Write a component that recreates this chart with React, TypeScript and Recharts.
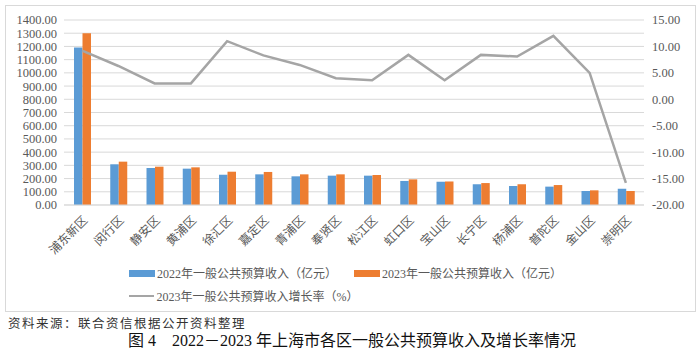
import { Bar, CartesianGrid, ComposedChart, Legend, Line, XAxis, YAxis } from "recharts";

const districts = [
  "浦东新区", "闵行区", "静安区", "黄浦区", "徐汇区", "嘉定区", "青浦区", "奉贤区",
  "松江区", "虹口区", "宝山区", "长宁区", "杨浦区", "普陀区", "金山区", "崇明区",
];
const revenue2022 = [1191, 308, 280, 275, 229, 232, 217, 222, 222, 182, 176, 157, 144, 139, 106, 123];
const revenue2023 = [1300, 328, 290, 285, 252, 250, 232, 232, 227, 194, 178, 166, 157, 151, 111, 106];
const growth2023 = [9.2, 6.3, 3.0, 3.0, 11.0, 8.3, 6.5, 4.0, 3.6, 8.4, 3.6, 8.4, 8.1, 12.0, 5.0, -15.8];
const leftTicks = [0, 100, 200, 300, 400, 500, 600, 700, 800, 900, 1000, 1100, 1200, 1300, 1400];
const rightTicks = [-20, -15, -10, -5, 0, 5, 10, 15];
const seriesNames = [
  "2022年一般公共预算收入（亿元）",
  "2023年一般公共预算收入（亿元）",
  "2023年一般公共预算收入增长率（%）",
];

const chartData = districts.map((name, i) => ({
  name,
  r2022: revenue2022[i],
  r2023: revenue2023[i],
  growth: growth2023[i],
}));

const serif = '"Liberation Serif", "Noto Sans CJK SC", serif';

function LegendBox(props: any) {
  const items = [...(props.payload || [])].sort(
    (a: any, b: any) => seriesNames.indexOf(a.value) - seriesNames.indexOf(b.value)
  );
  return (
    <div style={{ display: "grid", gridTemplateColumns: "225px 260px", rowGap: 9, fontFamily: serif, fontSize: 12, color: "#595959" }}>
      {items.map((item: any) => (
        <div key={item.value} style={{ display: "flex", alignItems: "center", height: 14 }}>
          <span
            style={{
              display: "inline-block",
              width: 26,
              height: item.type === "line" ? 2.5 : 7,
              background: item.color,
            }}
          />
          <span style={{ marginLeft: 2 }}>{item.value}</span>
        </div>
      ))}
    </div>
  );
}

export default function App() {
  return (
    <div style={{ position: "absolute", left: 0, top: 0, width: 700, height: 353, background: "#fff", overflow: "hidden" }}>
      <div style={{ position: "absolute", left: 5, top: 5, width: 689, height: 305, border: "1px solid #d9d9d9" }} />
      <div style={{ position: "absolute", left: 0, top: 0 }}>
        <ComposedChart
          width={700}
          height={310}
          data={chartData}
          margin={{ top: 20, right: 0, left: 0, bottom: 55 }}
          barGap={0}
          barSize={8.5}
        >
          <CartesianGrid yAxisId="left" vertical={false} stroke="#d9d9d9" />
          <XAxis
            dataKey="name"
            interval={0}
            height={50}
            tickLine={false}
            axisLine={{ stroke: "#d9d9d9" }}
            angle={-45}
            textAnchor="end"
            tickSize={0}
            tickMargin={10}
            tick={{ fontFamily: serif, fontSize: 12, fill: "#595959" }}
          />
          <YAxis
            yAxisId="left"
            width={64}
            domain={[0, 1400]}
            ticks={leftTicks}
            interval={0}
            axisLine={false}
            tickLine={false}
            tickSize={0}
            tickMargin={7}
            tickFormatter={(v: number) => v.toFixed(2)}
            tick={{ fontFamily: serif, fontSize: 12.5, fill: "#595959" }}
          />
          <YAxis
            yAxisId="right"
            orientation="right"
            width={56}
            domain={[-20, 15]}
            ticks={rightTicks}
            interval={0}
            axisLine={false}
            tickLine={false}
            tickSize={0}
            tickMargin={8}
            tickFormatter={(v: number) => v.toFixed(2)}
            tick={{ fontFamily: serif, fontSize: 12.5, fill: "#595959" }}
          />
          <Legend
            verticalAlign="middle"
            align="center"
            content={LegendBox}
            wrapperStyle={{ left: 129, top: 266, width: 500 }}
          />
          <Bar yAxisId="left" dataKey="r2022" name={seriesNames[0]} fill="#5B9BD5" isAnimationActive={false} />
          <Bar yAxisId="left" dataKey="r2023" name={seriesNames[1]} fill="#ED7D31" isAnimationActive={false} />
          <Line
            yAxisId="right"
            dataKey="growth"
            name={seriesNames[2]}
            stroke="#A5A5A5"
            strokeWidth={2.5}
            dot={false}
            activeDot={false}
            legendType="line"
            isAnimationActive={false}
          />
        </ComposedChart>
      </div>
      <div style={{ position: "absolute", left: 8, top: 315, lineHeight: "16px", fontFamily: '"Noto Sans CJK SC", sans-serif', fontSize: 12.5, letterSpacing: 1.5, color: "#333" }}>
        资料来源：联合资信根据公开资料整理
      </div>
      <div style={{ position: "absolute", left: 0, width: 704, top: 331, lineHeight: "19px", textAlign: "center", fontFamily: serif, fontSize: 16, color: "#111" }}>
        图 4　2022－2023 年上海市各区一般公共预算收入及增长率情况
      </div>
    </div>
  );
}
